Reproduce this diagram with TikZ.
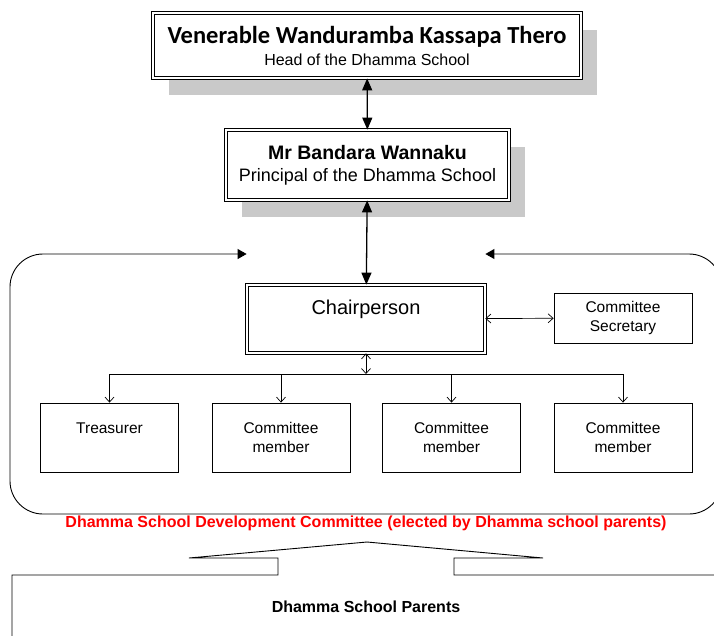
\documentclass[tikz,border=0pt]{standalone}
\usepackage{fontspec}
\setmainfont{Liberation Sans}
\newfontfamily\calibri{Carlito}
\usepackage{xcolor}
\usetikzlibrary{shapes, positioning, arrows.meta, shadows}

\begin{document}
\begin{tikzpicture}[
    x=1pt, y=-1pt,
    % Define the style for the boxes
    headbox/.style={
        rectangle,
        draw=black,
        double,
        double distance=1.6pt,
        line width=0.8pt,
        fill=white,
        align=center,
        inner sep=0pt,
        drop shadow={shadow xshift=16pt, shadow yshift=-17pt, fill=black!21, opacity=1}
    },
    chairbox/.style={
        rectangle,
        draw=black,
        double,
        double distance=1.6pt,
        line width=0.8pt,
        fill=white,
        align=center,
        inner sep=0pt,
        font=\fontsize{20}{24}\selectfont
    },
    member/.style={
        rectangle,
        draw=black,
        line width=0.8pt,
        fill=white,
        align=center,
        inner sep=0pt,
        minimum width=138pt,
        font=\fontsize{15.5}{19}\selectfont
    },
    % Define style for arrows
    arrow/.style={
        {Triangle[length=12pt, width=10pt]}-{Triangle[length=12pt, width=10pt]},
        line width=1.3pt
    },
    link/.style={
        -{Straight Barb[length=5pt, width=9pt]},
        line width=0.7pt
    },
    twolink/.style={
        {Straight Barb[length=5pt, width=9pt]}-{Straight Barb[length=5pt, width=9pt]},
        line width=0.7pt
    },
    biglink/.style={
        {Triangle[length=9pt, width=10pt]}-{Triangle[length=9pt, width=10pt]},
        line width=0.9pt,
        rounded corners=33pt
    }
]
\useasboundingbox (0,0) rectangle (714,635);

% 1. Head of the Dhamma School
\node (head) [headbox, minimum width=428pt, minimum height=65pt,
    font=\fontsize{16}{22}\selectfont] at (367,45.5)
    {{\calibri\bfseries\fontsize{24.5}{22}\selectfont Venerable Wanduramba Kassapa Thero}\\
     Head of the Dhamma School};

% 2. Principal
\node (principal) [headbox, minimum width=283pt, minimum height=70pt,
    font=\fontsize{18}{22}\selectfont] at (367.5,165)
    {{\bfseries\fontsize{19.5}{22}\selectfont Mr Bandara Wannaku}\\
     Principal of the Dhamma School};

% 3. Chairperson and secretary
\node (chair) [chairbox, minimum width=238pt, minimum height=68pt] at (366,319) {Chairperson\\ ~};
\node (sec) [member, minimum height=50pt] at (623,318) {Committee\\Secretary};

% 4. Committee members
\node (treas) [member, minimum height=69pt] at (109.5,437.5) {Treasurer\\ ~};
\node (memA) [member, minimum height=69pt] at (281,437.5) {Committee\\member};
\node (memB) [member, minimum height=69pt] at (451.5,437.5) {Committee\\member};
\node (memC) [member, minimum height=69pt] at (623,437.5) {Committee\\member};

% Draw arrows to show the chain of command
\draw [arrow] (head) -- (principal);
\draw [arrow] (principal) -- (chair);
\draw [twolink] (chair) -- (sec);

\coordinate (bus) at (chair.south |- 0,374);
\draw [twolink] (chair) -- (bus);
\draw [link] (bus) -| (treas);
\draw [link] (bus) -| (memA);
\draw [link] (bus) -| (memB);
\draw [link] (bus) -| (memC);

% Committee frame
\coordinate (lt) at (chair.west |- 0,254);
\coordinate (rt) at (chair.east |- 0,254);
\draw [biglink] (lt) -- (10,254) -- (10,514) -- (722,514) -- (722,254) -- (rt);
\node (committee) [text=red, font=\bfseries\fontsize{16}{19}\selectfont] at (366,523.5)
    {Dhamma School Development Committee (elected by Dhamma school parents)};

% 5. Parents
\draw [line width=0.9pt] (12,645) -- (12,575) -- (278,575) -- (278,558) -- (189,558)
    -- (367,542) -- (543,558) -- (454,558) -- (454,575) -- (724,575);
\node (parents) [font=\bfseries\fontsize{16}{19}\selectfont] at (366,607) {Dhamma School Parents};

\end{tikzpicture}
\end{document}
